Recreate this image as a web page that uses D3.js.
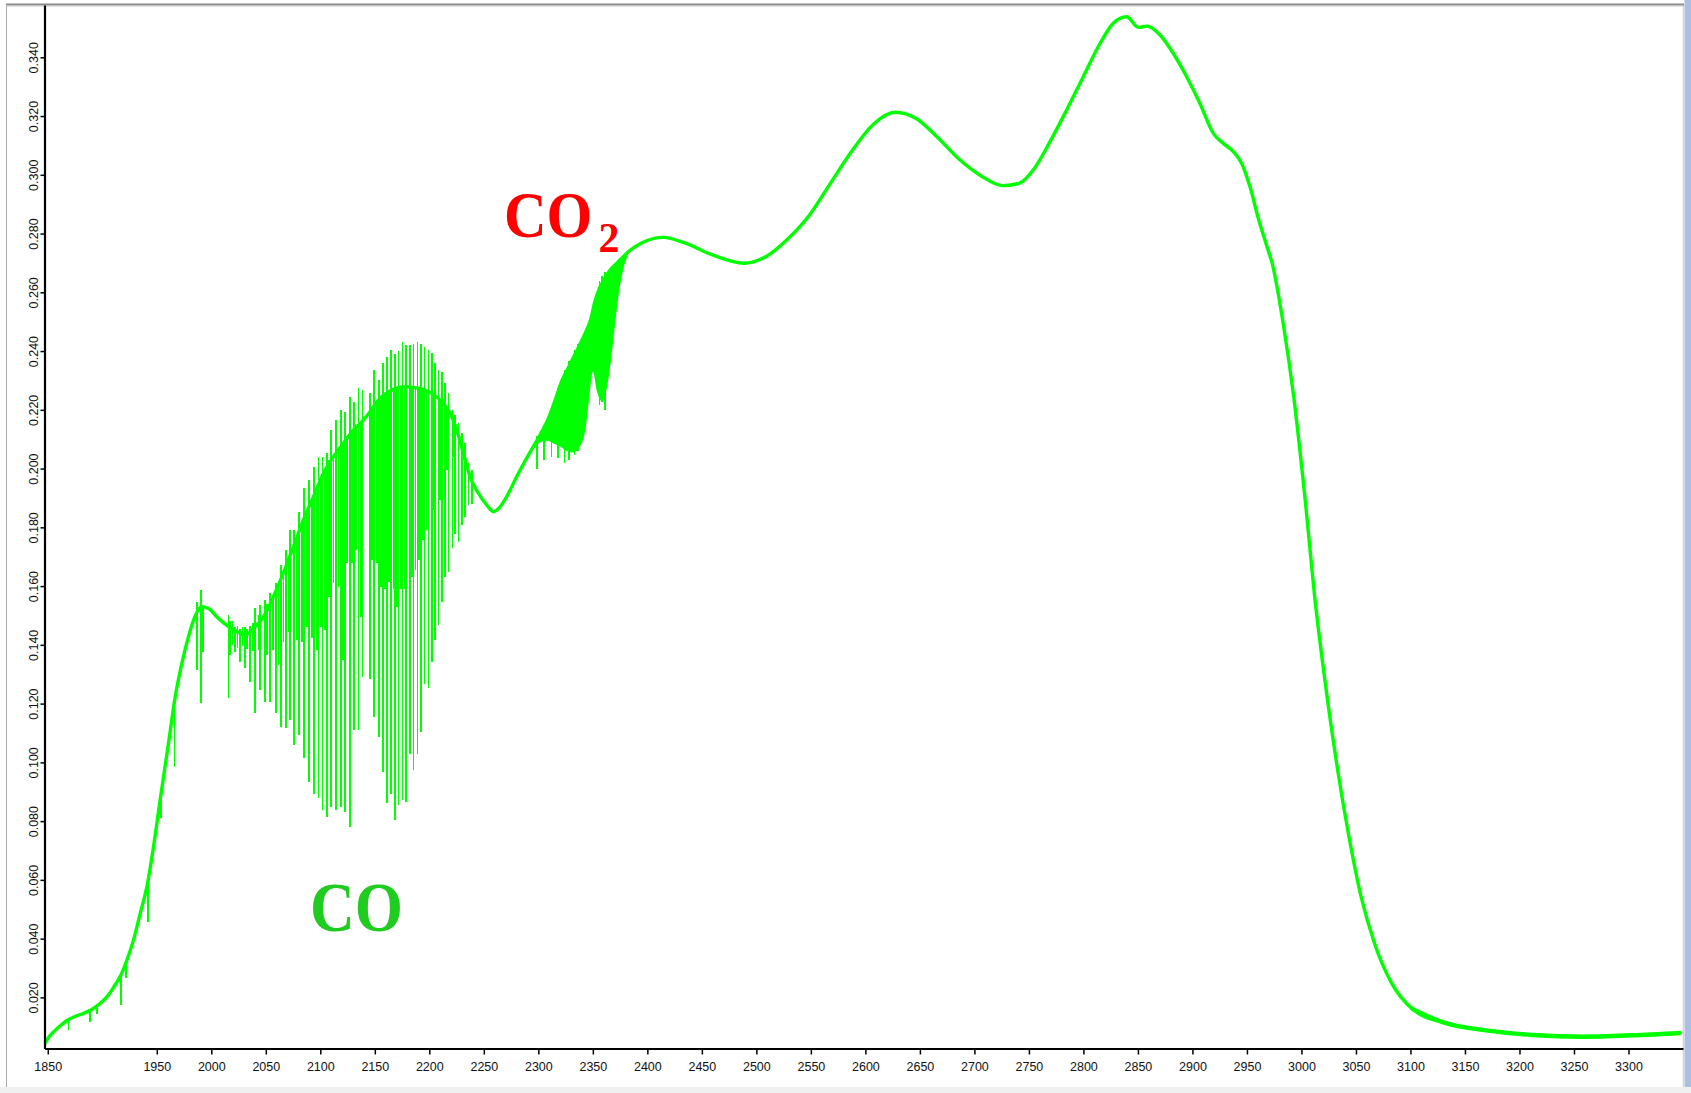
<!DOCTYPE html>
<html>
<head>
<meta charset="utf-8">
<script src="https://cdn.jsdelivr.net/npm/d3@7"></script>
<style>
  html, body { margin: 0; padding: 0; background: #fff; }
  svg { display: block; }
</style>
</head>
<body>
<svg id="chart" width="1691" height="1093"></svg>
<script>
// ---- Spectrum data (wavenumber, absorbance) ----
// Broad envelope of the spectrum
const waveNumber = [
  1847.5, 1851, 1856, 1862, 1868, 1875, 1883, 1890, 1898, 1905, 1911, 1917, 1922.6, 1928.6,
  1934.8, 1940.9, 1947, 1953, 1960.7, 1966.9, 1973, 1979, 1985, 1991, 1997.5, 2005, 2014,
  2023.5, 2031, 2038.7, 2048, 2057, 2066, 2075.4, 2084.5, 2093.7, 2102.9, 2112, 2121.2,
  2130.4, 2139.6, 2146, 2153.3, 2165.6, 2177.8, 2190, 2202.3, 2211.5, 2219.1, 2225.2,
  2231.3, 2237.4, 2245, 2252.7, 2258.8, 2264.9, 2271, 2281, 2296, 2310.8, 2325.6, 2340.4,
  2350, 2358, 2368, 2378, 2394.8, 2414.6, 2434.4, 2459.1, 2488.8, 2508.6, 2528.3, 2548.1,
  2567.9, 2587.6, 2607.4, 2627.2, 2647, 2666.8, 2686.6, 2706.3, 2726.1, 2741, 2755.8,
  2769.4, 2784.7, 2799.9, 2815.2, 2827.4, 2839.7, 2850.3, 2858, 2870.3, 2882.5, 2894.7,
  2906.9, 2919.1, 2928.3, 2937.5, 2945.1, 2952.8, 2960.4, 2968, 2973.4, 2983.3, 2993.2,
  3003.1, 3012.9, 3022.8, 3032.7, 3042.6, 3054.5, 3067.3, 3082.2, 3102, 3131.6, 3171.2,
  3212, 3258, 3304, 3347
];
const absorbance = [
  0.0042, 0.0065, 0.0085, 0.0105, 0.0122, 0.0135, 0.0146, 0.0158, 0.0179, 0.0205, 0.0238, 0.0275, 0.0327, 0.0395,
  0.0486, 0.0576, 0.0713, 0.0870, 0.1064, 0.1223, 0.1337, 0.1427, 0.1496, 0.1530, 0.1524, 0.1496, 0.1467,
  0.1445, 0.1433, 0.1456, 0.1496, 0.1564, 0.1643, 0.1734, 0.1825, 0.1904, 0.1984, 0.2040, 0.2086,
  0.2131, 0.2165, 0.2195, 0.2233, 0.2267, 0.2279, 0.2273, 0.2256, 0.2227, 0.2188, 0.2131,
  0.2052, 0.1972, 0.1916, 0.1876, 0.1853, 0.1870, 0.1905, 0.1979, 0.2078, 0.2162, 0.2290, 0.2420,
  0.2500, 0.2590, 0.2665, 0.2721, 0.2768, 0.2787, 0.2768, 0.2728, 0.2699, 0.2721, 0.2780, 0.2860,
  0.2971, 0.3081, 0.3172, 0.3213, 0.3191, 0.3125, 0.3051, 0.2996, 0.2963, 0.2971, 0.3026,
  0.3113, 0.3221, 0.3334, 0.3447, 0.3516, 0.3538, 0.3502, 0.3506, 0.3476, 0.3413, 0.3334,
  0.3243, 0.3141, 0.3107, 0.3079, 0.3039, 0.2959, 0.2852, 0.2760, 0.2695, 0.2493, 0.2236,
  0.1905, 0.1538, 0.1244, 0.0987, 0.0767, 0.0546, 0.0381, 0.0252, 0.0160, 0.0113, 0.0087,
  0.0072, 0.0066, 0.0071, 0.0079
];

// Sharp lines: [wavenumber, lowest absorbance, highest absorbance]
const waterLines = [
  [1869, 0.0089, 0.0120], [1889, 0.0117, 0.0162], [1895, 0.0145, 0.0176],
  [1917, 0.0174, 0.0278], [1921.7, 0.0265, 0.0315], [1941.8, 0.0457, 0.0600],
  [1953.7, 0.0809, 0.0900], [1966.2, 0.0985, 0.1230]
];

// CO fundamental band, P and R branches
const coLines = [
  [1986.8, 0.1314, 0.1546], [1990.4, 0.1201, 0.1586], [1992.2, 0.1376, 0.1530],
  [2015.8, 0.1218, 0.1501], [2017.3, 0.1365, 0.1480], [2021.8, 0.1376, 0.1460],
  [2026.4, 0.1342, 0.1455], [2031.0, 0.1320, 0.1460], [2035.7, 0.1275, 0.1465],
  [2040.2, 0.1167, 0.1524], [2044.8, 0.1246, 0.1535], [2049.4, 0.1206, 0.1552],
  [2054.0, 0.1206, 0.1575], [2059.5, 0.1167, 0.1609], [2063.8, 0.1121, 0.1671],
  [2068.4, 0.1116, 0.1723], [2072.3, 0.1144, 0.1791], [2076.0, 0.1059, 0.1791],
  [2080.6, 0.1093, 0.1853], [2085.2, 0.1014, 0.1933], [2089.8, 0.0934, 0.1961],
  [2094.4, 0.0894, 0.2006], [2098.3, 0.0877, 0.2040], [2102.0, 0.0837, 0.2040],
  [2106.0, 0.0815, 0.2052], [2110.0, 0.0849, 0.2131], [2114.3, 0.0837, 0.2165],
  [2118.8, 0.0849, 0.2199], [2122.8, 0.0832, 0.2193], [2127.4, 0.0781, 0.2244],
  [2131.0, 0.1110, 0.2227], [2135.0, 0.1110, 0.2273], [2138.6, 0.1291, 0.2267],
  [2145.7, 0.1285, 0.2256], [2149.4, 0.1155, 0.2335], [2154.0, 0.1087, 0.2300],
  [2157.4, 0.0968, 0.2358], [2161.0, 0.0860, 0.2381], [2164.7, 0.0894, 0.2403],
  [2168.6, 0.0803, 0.2390], [2171.7, 0.0854, 0.2400], [2175.4, 0.0871, 0.2432],
  [2178.8, 0.0866, 0.2420], [2182.4, 0.1030, 0.2420], [2185.4, 0.0974, 0.2425],
  [2189.1, 0.1030, 0.2432], [2192.5, 0.1104, 0.2425], [2195.5, 0.1268, 0.2415],
  [2199.2, 0.1252, 0.2405], [2202.3, 0.1342, 0.2392], [2205.3, 0.1416, 0.2358],
  [2208.3, 0.1467, 0.2335], [2211.5, 0.1547, 0.2330], [2214.5, 0.1632, 0.2290],
  [2217.5, 0.1649, 0.2256], [2221.2, 0.1728, 0.2199], [2223.7, 0.1779, 0.2182],
  [2226.7, 0.1751, 0.2154], [2229.8, 0.1808, 0.2120], [2232.8, 0.1836, 0.2086],
  [2235.9, 0.1876, 0.2018], [2239.0, 0.1880, 0.1995]
];

// Weaker lines lying between the main CO lines
const coWeakLines = [
  [2019.5, 0.1400, 0.1480], [2024.0, 0.1390, 0.1465], [2028.5, 0.1395, 0.1460],
  [2033.0, 0.1385, 0.1455], [2038.0, 0.1380, 0.1475], [2043.3, 0.1382, 0.1500],
  [2051.0, 0.1365, 0.1540], [2056.5, 0.1382, 0.1570], [2061.6, 0.1331, 0.1610],
  [2066.2, 0.1410, 0.1650], [2070.8, 0.1445, 0.1700], [2078.5, 0.1416, 0.1770],
  [2083.0, 0.1410, 0.1820], [2087.6, 0.1461, 0.1860], [2092.2, 0.1422, 0.1900],
  [2096.8, 0.1382, 0.1930], [2100.5, 0.1461, 0.1970], [2104.5, 0.1450, 0.2000],
  [2108.1, 0.1564, 0.2030], [2112.0, 0.1609, 0.2050], [2116.6, 0.1598, 0.2070],
  [2120.6, 0.1348, 0.2090], [2124.3, 0.1677, 0.2110], [2128.9, 0.1677, 0.2130],
  [2132.9, 0.1723, 0.2150], [2137.2, 0.1496, 0.2160],
  [2147.6, 0.1690, 0.2210], [2152.0, 0.1680, 0.2230], [2155.8, 0.1598, 0.2245],
  [2159.3, 0.1589, 0.2255], [2163.0, 0.1615, 0.2265], [2167.0, 0.1590, 0.2270],
  [2170.2, 0.1530, 0.2275], [2174.0, 0.1590, 0.2280], [2177.3, 0.1590, 0.2280],
  [2183.9, 0.1632, 0.2280], [2187.3, 0.1654, 0.2278], [2190.8, 0.1688, 0.2275],
  [2194.0, 0.1757, 0.2270], [2197.4, 0.1790, 0.2265], [2203.8, 0.1859, 0.2255],
  [2209.9, 0.1893, 0.2235], [2216.0, 0.1995, 0.2205], [2222.4, 0.2040, 0.2160]
];

// CO2 asymmetric stretch band: dense line envelope (upper and lower edges)
const co2Wave  = [2290, 2296, 2302, 2308, 2314, 2320, 2326, 2332, 2338, 2343, 2347, 2350, 2354, 2358, 2362, 2366, 2370, 2374, 2378, 2382];
const co2Upper = [0.2050, 0.2090, 0.2130, 0.2175, 0.2235, 0.2300, 0.2345, 0.2390, 0.2435, 0.2475, 0.2515, 0.2565, 0.2610, 0.2640, 0.2665, 0.2685, 0.2700, 0.2715, 0.2728, 0.2735];
const co2Lower = [0.2040, 0.2070, 0.2090, 0.2095, 0.2085, 0.2075, 0.2060, 0.2055, 0.2075, 0.2130, 0.2250, 0.2330, 0.2260, 0.2230, 0.2260, 0.2350, 0.2480, 0.2600, 0.2680, 0.2725];
const co2Lines = [
  [2299, 0.2000, 0.2110], [2305, 0.2030, 0.2150], [2312, 0.2040, 0.2200],
  [2318, 0.2035, 0.2275], [2324, 0.2020, 0.2335], [2328, 0.2030, 0.2365],
  [2333, 0.2045, 0.2405], [2336.5, 0.2060, 0.2425], [2356, 0.2215, 0.2640],
  [2358.5, 0.2225, 0.2655], [2361, 0.2200, 0.2668]
];

// Axis ticks
const xTicks = [1850, 1950, 2000, 2050, 2100, 2150, 2200, 2250, 2300, 2350, 2400, 2450, 2500,
  2550, 2600, 2650, 2700, 2750, 2800, 2850, 2900, 2950, 3000, 3050, 3100, 3150, 3200, 3250, 3300];
const yTicks = [0.02, 0.04, 0.06, 0.08, 0.10, 0.12, 0.14, 0.16, 0.18, 0.20, 0.22, 0.24,
  0.26, 0.28, 0.30, 0.32, 0.34];

// ---- Drawing ----
const svg = d3.select("#chart");
const W = 1691, H = 1093;
const plot = { left: 44.5, right: 1683, top: 5, bottom: 1048.5 };

const x = d3.scaleLinear().domain([1847, 3350]).range([plot.left, plot.right]);
const y = d3.scaleLinear().domain([0.0026, 0.3578]).range([plot.bottom, plot.top]);

// window frame
svg.append("rect").attr("x", 0).attr("y", 0).attr("width", W).attr("height", H).attr("fill", "#fff");
svg.append("rect").attr("x", 0).attr("y", 1087).attr("width", W).attr("height", H - 1087).attr("fill", "#f0f0f0");
svg.append("rect").attr("x", 1684.5).attr("y", 0).attr("width", W - 1684.5).attr("height", 1087).attr("fill", "#a9bfe3");
svg.append("line").attr("x1", 1683.5).attr("x2", 1683.5).attr("y1", 4).attr("y2", 1087)
  .attr("stroke", "#d4d4d4").attr("stroke-width", 1.5);
svg.append("line").attr("x1", 6.5).attr("x2", 6.5).attr("y1", 4).attr("y2", 1087)
  .attr("stroke", "#a8a8a8").attr("stroke-width", 1);
svg.append("line").attr("x1", 6).attr("x2", 1684).attr("y1", 4.5).attr("y2", 4.5)
  .attr("stroke", "#8a8a8a").attr("stroke-width", 2);
svg.append("line").attr("x1", 6).attr("x2", 1684).attr("y1", 6).attr("y2", 6)
  .attr("stroke", "#c8c8c8").attr("stroke-width", 1);

const green = "#00ff00";
const data = svg.append("g");

// CO2 dense band
const co2Band = co2Wave.map((w, i) => ({ w, lo: co2Lower[i], hi: co2Upper[i] }));
data.append("path")
  .datum(co2Band)
  .attr("fill", green)
  .attr("d", d3.area().x(d => x(d.w)).y0(d => y(d.lo)).y1(d => y(d.hi)).curve(d3.curveMonotoneX));

// sharp absorption lines
function drawLines(rows, width) {
  data.append("g").attr("shape-rendering", "crispEdges")
    .selectAll("line").data(rows).join("line")
    .attr("x1", d => x(d[0])).attr("x2", d => x(d[0]))
    .attr("y1", d => y(d[1])).attr("y2", d => y(d[2]))
    .attr("stroke", green).attr("stroke-width", width);
}
drawLines(coWeakLines, 1.6);
drawLines(coLines, 1.6);
drawLines(co2Lines, 1.6);
drawLines(waterLines, 1.6);

// envelope
const envelope = waveNumber.map((w, i) => ({ w, a: absorbance[i] }));
const envLine = d3.line().x(d => x(d.w)).y(d => y(d.a)).curve(d3.curveMonotoneX);
data.append("path")
  .datum(envelope)
  .attr("fill", "none")
  .attr("stroke", green)
  .attr("stroke-width", 3.4)
  .attr("stroke-linejoin", "round")
  .attr("d", envLine);
// the low-signal tail is noisier, so its trace is a little wider
data.append("path")
  .datum(envelope.filter(d => d.w >= 3102))
  .attr("fill", "none")
  .attr("stroke", green)
  .attr("stroke-width", 4.4)
  .attr("stroke-linecap", "round")
  .attr("d", envLine);

// axes
const fontFam = "'Liberation Sans', Arial, sans-serif";
const xAxis = svg.append("g")
  .attr("transform", `translate(0,${plot.bottom})`)
  .call(d3.axisBottom(x).tickValues(xTicks).tickFormat(d3.format("d"))
    .tickSize(6).tickSizeOuter(0).tickPadding(8));
xAxis.select(".domain").attr("stroke", "#000").attr("stroke-width", 2.2);
xAxis.selectAll(".tick line").attr("stroke", "#000").attr("stroke-width", 1.5);
xAxis.selectAll("text").attr("font-family", fontFam).attr("font-size", 12.5).attr("fill", "#111");

const yAxis = svg.append("g")
  .attr("transform", `translate(${plot.left},0)`)
  .call(d3.axisLeft(y).tickValues(yTicks).tickFormat(d3.format(".3f"))
    .tickSize(4).tickSizeOuter(0));
yAxis.select(".domain").attr("stroke", "#000").attr("stroke-width", 2.2);
yAxis.selectAll(".tick line").attr("stroke", "#000").attr("stroke-width", 1.5);
yAxis.selectAll("text")
  .attr("font-family", fontFam).attr("font-size", 12.5).attr("fill", "#111")
  .attr("transform", "rotate(-90)")
  .attr("x", 0).attr("y", -6.5).attr("dy", null)
  .attr("text-anchor", "middle");

// species labels
const serif = "'Liberation Serif', 'Times New Roman', serif";
svg.append("g").attr("transform", "translate(504,236.5) scale(1,1.12)")
  .append("text")
  .attr("font-family", serif).attr("font-weight", "bold").attr("font-size", 59)
  .attr("fill", "#ff0000").text("CO");
svg.append("text").attr("x", 598.5).attr("y", 251.7)
  .attr("font-family", serif).attr("font-weight", "bold").attr("font-size", 42)
  .attr("fill", "#ff0000").text("2");

svg.append("g").attr("transform", "translate(310,931) scale(1,1.12)")
  .append("text")
  .attr("font-family", serif).attr("font-weight", "bold").attr("font-size", 62)
  .attr("fill", "#1fcc1f").text("CO");
</script>
</body>
</html>
